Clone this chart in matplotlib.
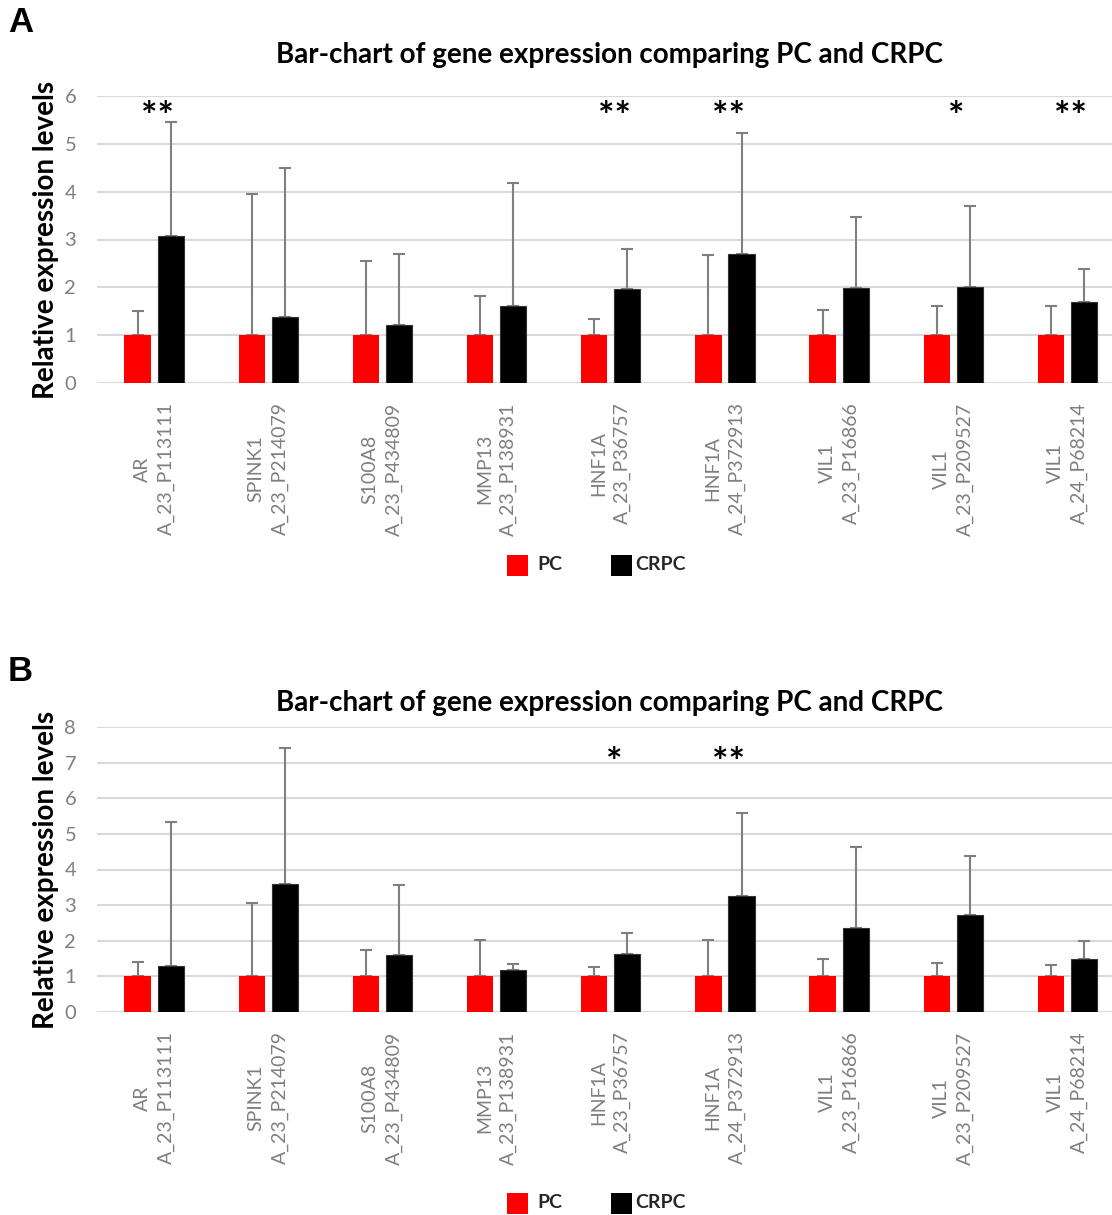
import numpy as np
import matplotlib
matplotlib.use("Agg")
import matplotlib.pyplot as plt
from matplotlib.patches import Rectangle

plt.rcParams['font.family'] = ['Lato', 'DejaVu Sans']

# data
genes = ["AR", "SPINK1", "S100A8", "MMP13", "HNF1A", "HNF1A", "VIL1", "VIL1", "VIL1"]
probes = ["A_23_P113111", "A_23_P214079", "A_23_P434809", "A_23_P138931", "A_23_P36757",
          "A_24_P372913", "A_23_P16866", "A_23_P209527", "A_24_P68214"]

pc_a = [1, 1, 1, 1, 1, 1, 1, 1, 1]
pc_a_top = [1.50, 3.96, 2.56, 1.82, 1.33, 2.68, 1.53, 1.62, 1.62]
crpc_a = [3.08, 1.37, 1.21, 1.60, 1.96, 2.70, 1.98, 2.00, 1.70]
crpc_a_top = [5.45, 4.50, 2.70, 4.18, 2.80, 5.22, 3.48, 3.71, 2.39]
stars_a = ["**", "", "", "", "**", "**", "", "*", "**"]

pc_b = [1, 1, 1, 1, 1, 1, 1, 1, 1]
pc_b_top = [1.41, 3.06, 1.73, 2.01, 1.26, 2.02, 1.48, 1.37, 1.31]
crpc_b = [1.29, 3.59, 1.61, 1.17, 1.64, 3.26, 2.35, 2.73, 1.50]
crpc_b_top = [5.34, 7.41, 3.56, 1.35, 2.22, 5.59, 4.64, 4.38, 1.99]
stars_b = ["", "", "", "", "*", "**", "", "", ""]

series = ["PC", "CRPC"]
colors = ["#ff0000", "black"]

TITLE = "Bar-chart of gene expression comparing PC and CRPC"
GREY = "#7f7f7f"

W, H = 1112, 1215
fig = plt.figure(figsize=(W / 100, H / 100), dpi=100)


def px_axes(left, top, right, bottom):
    return fig.add_axes([left / W, 1 - bottom / H, (right - left) / W, (bottom - top) / H])


def draw_panel(ax, pc, pc_top, crpc, crpc_top, stars, ymax, star_y):
    x = np.arange(len(genes))
    off = 0.145
    w = 0.23
    ax.bar(x - off, pc, w, color=colors[0], zorder=3)
    ax.bar(x + off, crpc, w, color=colors[1], edgecolor="#333333", linewidth=0.8, zorder=3)
    ax.errorbar(x - off, pc, yerr=[np.zeros(len(x)), np.array(pc_top) - np.array(pc)],
                fmt="none", ecolor=GREY, elinewidth=1.5, capsize=4, capthick=1.5, zorder=2)
    ax.errorbar(x + off, crpc, yerr=[np.zeros(len(x)), np.array(crpc_top) - np.array(crpc)],
                fmt="none", ecolor=GREY, elinewidth=1.5, capsize=4, capthick=1.5, zorder=2)
    for xi, s in zip(x, stars):
        if s:
            ax.text(xi + 0.03, star_y, s, ha="center", va="center", fontsize=28,
                    fontweight="bold", color="black")
    ax.set_xlim(-0.5, 8.39)
    ax.set_ylim(0, ymax)
    ax.set_yticks(range(0, ymax + 1))
    ax.yaxis.grid(True, color="#d9d9d9", linewidth=1.5, zorder=0)
    ax.set_axisbelow(True)
    for sp in ax.spines.values():
        sp.set_visible(False)
    ax.tick_params(axis="both", length=0, colors=GREY, labelsize=14.5)
    ax.tick_params(axis="y", pad=15)
    ax.set_xticks(x)
    ax.set_xticklabels([g + "\n" + p for g, p in zip(genes, probes)], rotation=90,
                       ha="center", va="top", multialignment="center", fontsize=14,
                       linespacing=1.5)
    ax.tick_params(axis="x", pad=14)
    ax.set_ylabel("Relative expression levels", fontsize=20, fontweight="bold",
                  color="black", labelpad=4)


def legend_row(y):
    # squares and labels placed by pixel like the original Excel legend
    sq = 21
    for lab, col, sx, tx in zip(series, colors, (507, 611), (537, 635)):
        fig.add_artist(Rectangle((sx / W, 1 - (y + sq / 2) / H), sq / W, sq / H,
                                 facecolor=col, edgecolor="none", transform=fig.transFigure))
        fig.text(tx / W, 1 - y / H, lab, ha="left", va="center", fontsize=14,
                 fontweight="bold", color="#262626")


ax_a = px_axes(97, 96, 1112, 383)
draw_panel(ax_a, pc_a, pc_a_top, crpc_a, crpc_a_top, stars_a, 6, 5.55)
ax_b = px_axes(97, 727, 1112, 1012)
draw_panel(ax_b, pc_b, pc_b_top, crpc_b, crpc_b_top, stars_b, 8, 6.97)

fig.text(610 / W, 1 - 55 / H, TITLE, ha="center", va="center", fontsize=20, fontweight="bold")
fig.text(610 / W, 1 - 703 / H, TITLE, ha="center", va="center", fontsize=20, fontweight="bold")
fig.text(8 / W, 1 - 22 / H, "A", ha="left", va="center", fontsize=25, fontweight="bold",
         family="Liberation Sans")
fig.text(8 / W, 1 - 672 / H, "B", ha="left", va="center", fontsize=25, fontweight="bold",
         family="Liberation Sans")

legend_row(565)
legend_row(1203)

fig.savefig("out.png", dpi=100)
